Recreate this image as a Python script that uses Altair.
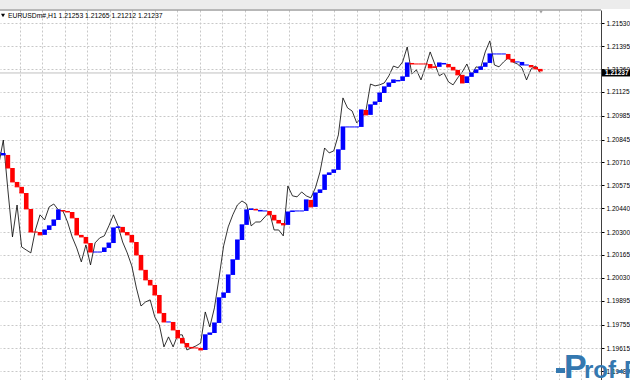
import altair as alt
import pandas as pd

# ---- data (EURUSD H1) ----
close = [
    1.20695, 1.20842, 1.20548, 1.20271, 1.20459, 1.20212, 1.20194, 1.20177, 1.20312, 1.20401,
    1.20371, 1.20448, 1.20465, 1.20430, 1.20424, 1.20359, 1.20271, 1.20206, 1.20124, 1.20224,
    1.20106, 1.20236, 1.20265, 1.20277, 1.20336, 1.20401, 1.20336, 1.20241, 1.20177, 1.20100,
    1.19970, 1.19864, 1.19888, 1.19900, 1.19800, 1.19752, 1.19623, 1.19682, 1.19623, 1.19694,
    1.19694, 1.19605, 1.19617, 1.19629, 1.19646, 1.19829, 1.19741, 1.19853, 1.20029, 1.20218,
    1.20330, 1.20401, 1.20459, 1.20483, 1.20465, 1.20336, 1.20359, 1.20359, 1.20389, 1.20418,
    1.20312, 1.20312, 1.20277, 1.20571, 1.20513, 1.20507, 1.20536, 1.20513, 1.20501, 1.20560,
    1.20654, 1.20795, 1.20766, 1.20778, 1.20872, 1.21090, 1.21031, 1.21013, 1.20943, 1.20972,
    1.21013, 1.21172, 1.21161, 1.21167, 1.21178, 1.21220, 1.21278, 1.21267, 1.21302, 1.21390,
    1.21231, 1.21255, 1.21196, 1.21273, 1.21361, 1.21290, 1.21220, 1.21237, 1.21184, 1.21167,
    1.21208, 1.21243, 1.21290, 1.21220, 1.21273, 1.21267, 1.21361, 1.21426, 1.21284, 1.21273,
    1.21302, 1.21326, 1.21302, 1.21290, 1.21267, 1.21196, 1.21261, 1.21278, 1.21237,
]

level = [
    1.20766, 1.20754, 1.20677, 1.20595, 1.20566, 1.20530, 1.20436, 1.20300, 1.20300, 1.20283,
    1.20312, 1.20336, 1.20371, 1.20430, 1.20424, 1.20418, 1.20383, 1.20283, 1.20271, 1.20235,
    1.20182, 1.20182, 1.20182, 1.20206, 1.20235, 1.20324, 1.20330, 1.20300, 1.20283, 1.20241,
    1.20165, 1.20077, 1.20018, 1.19988, 1.19929, 1.19823, 1.19770, 1.19770, 1.19723, 1.19676,
    1.19646, 1.19623, 1.19617, 1.19617, 1.19605, 1.19694, 1.19705, 1.19764, 1.19912, 1.19941,
    1.20047, 1.20136, 1.20253, 1.20342, 1.20430, 1.20436, 1.20430, 1.20424, 1.20424, 1.20401,
    1.20371, 1.20353, 1.20342, 1.20418, 1.20424, 1.20424, 1.20424, 1.20489, 1.20448, 1.20530,
    1.20548, 1.20636, 1.20648, 1.20666, 1.20784, 1.20919, 1.20919, 1.20919, 1.20919, 1.21019,
    1.20990, 1.21049, 1.21066, 1.21119, 1.21155, 1.21178, 1.21196, 1.21190, 1.21214, 1.21296,
    1.21290, 1.21290, 1.21290, 1.21290, 1.21267, 1.21273, 1.21296, 1.21290, 1.21273, 1.21255,
    1.21226, 1.21178, 1.21214, 1.21237, 1.21255, 1.21273, 1.21296, 1.21349, 1.21349, 1.21349,
    1.21349, 1.21320, 1.21302, 1.21302, 1.21284, 1.21284, 1.21273, 1.21261, 1.21249,
]

direction = list(
    "bbrrrrrrrr" "bbbbrrrrrr" "rbbbbbbrrr" "rrrrrrrbrr" "rrrrrbbbbb"
    "bbbbbbrbbr" "rrrbbbbbrb" "bbbbbbbbbb" "rbbbbbbbbb" "rrrrrrbbrr"
    "rrbbbbbbbb" "brrbbbrrr"
)

price_ticks = [1.21530, 1.21395, 1.21260, 1.21125, 1.20985, 1.20845, 1.20710, 1.20575,
               1.20440, 1.20300, 1.20165, 1.20030, 1.19895, 1.19755, 1.19615, 1.19480]

title_text = "EURUSDm#,H1  1.21253 1.21265 1.21212 1.21237"
last_price = [1.21237]
last_label = ["1.21237"]

n = len(close)
assert len(level) == n and len(direction) == n

df = pd.DataFrame({
    "i": list(range(n)),
    "close": close,
    "level": level,
    "prev": [level[0]] + level[:-1],
    "dir": direction,
})

W, H = 601, 370
FONT = "Liberation Sans"

x_scale = alt.Scale(domain=[0.283, 131.22], nice=False, zero=False)
y_scale = alt.Scale(domain=[1.19428, 1.21608], nice=False, zero=False)
col_scale = alt.Scale(domain=["r", "b"], range=["#ff0000", "#0000ff"])

# vertical grid positions (in bar-index units)
xgrid = [(20 + 22.45 * k + 1.3) / 4.59 for k in range(26)]

X_AXIS = alt.Axis(values=xgrid, labels=False, ticks=False, domain=False, title=None,
                  grid=True, gridColor="#c8c8c8", gridDash=[2, 2], gridWidth=1)
Y_AXIS = alt.Axis(orient="right", values=price_ticks, format=".5f", title=None,
                  grid=True, gridColor="#c8c8c8", gridDash=[2, 2], gridWidth=1,
                  labelFont=FONT, labelFontSize=6.5, labelColor="#000000",
                  labelPadding=2, tickSize=3, tickColor="#000000",
                  domainColor="#404040", labelAlign="left",
                  labelBaseline="middle", labelOverlap=False, labelBound=False)

base = alt.Chart(df)

price_line = base.mark_line(color="#000000", strokeWidth=0.8, clip=True).encode(
    x=alt.X("i:Q", scale=x_scale, axis=X_AXIS),
    y=alt.Y("close:Q", scale=y_scale, axis=Y_AXIS),
    order="i:Q",
)

bars = base.mark_bar(clip=True).transform_calculate(
    xl="datum.i - 0.5", xr="datum.i + 0.5"
).encode(
    x=alt.X("xl:Q", scale=x_scale, axis=X_AXIS),
    x2="xr:Q",
    y=alt.Y("prev:Q", scale=y_scale, axis=Y_AXIS),
    y2="level:Q",
    color=alt.Color("dir:N", scale=col_scale, legend=None),
)

flats = base.mark_rule(strokeWidth=1, clip=True).transform_calculate(
    xl="datum.i - 0.5", xr="datum.i + 0.5"
).encode(
    x=alt.X("xl:Q", scale=x_scale, axis=X_AXIS),
    x2="xr:Q",
    y=alt.Y("level:Q", scale=y_scale, axis=Y_AXIS),
    color=alt.Color("dir:N", scale=col_scale, legend=None),
)

last_df = pd.DataFrame({"p": last_price, "t": last_label})

bid_line = alt.Chart(last_df).mark_rule(color="#c0c0c0", strokeWidth=1).encode(
    y=alt.Y("p:Q", scale=y_scale, axis=Y_AXIS),
    x=alt.value(0), x2=alt.value(W),
)

price_box = alt.Chart(last_df).mark_rect(color="#000000").transform_calculate(
    top="datum.p + 0.000206", bot="datum.p - 0.000206"
).encode(
    y=alt.Y("top:Q", scale=y_scale, axis=Y_AXIS), y2="bot:Q",
    x=alt.value(W + 1), x2=alt.value(W + 29),
)

price_txt = alt.Chart(last_df).mark_text(
    color="#ffffff", font=FONT, fontSize=6.5, fontWeight="bold", align="left", baseline="middle"
).encode(
    y=alt.Y("p:Q", scale=y_scale, axis=Y_AXIS), x=alt.value(W + 4), text="t:N",
)

dummy = pd.DataFrame({"a": [0]})

top_band = alt.Chart(dummy).mark_rect(color="#ececec").encode(
    x=alt.value(0), x2=alt.value(630), y=alt.value(-10), y2=alt.value(-1),
)
top_line = alt.Chart(dummy).mark_rule(color="#707070", strokeWidth=1).encode(
    x=alt.value(0), x2=alt.value(W), y=alt.value(0),
)

title_mark = alt.Chart(dummy).mark_text(
    text=title_text, font=FONT, fontSize=6.8, color="#000000", align="left", baseline="middle"
).encode(x=alt.value(8), y=alt.value(5.5))

title_tri = alt.Chart(dummy).mark_point(
    shape="triangle-down", filled=True, color="#000000", size=16, opacity=1
).encode(x=alt.value(3), y=alt.value(5.5))

shift_tri = alt.Chart(dummy).mark_point(
    shape="triangle-down", filled=True, color="#a0a0a0", size=14, opacity=1
).encode(x=alt.value(541), y=alt.value(2))

wm_bar = alt.Chart(dummy).mark_rect(color="#3478b0").encode(
    x=alt.value(556), x2=alt.value(565), y=alt.value(358), y2=alt.value(363),
)
wm_p = alt.Chart(dummy).mark_text(
    text="P", font=FONT, fontSize=34, fontWeight="bold", color="#3478b0",
    align="left", baseline="alphabetic"
).encode(x=alt.value(564), y=alt.value(368))
wm_rest = alt.Chart(dummy).mark_text(
    text="rof-FX", font=FONT, fontSize=24, fontWeight="bold", color="#3478b0",
    align="left", baseline="alphabetic"
).encode(x=alt.value(584), y=alt.value(368))

chart = alt.layer(
    price_line, bid_line, bars, flats, top_band, top_line, title_tri, title_mark,
    shift_tri, price_box, price_txt, wm_bar, wm_p, wm_rest,
).properties(
    width=W, height=H,
    padding={"left": 0, "top": 10, "right": 29, "bottom": 0},
    autosize=alt.AutoSizeParams(type="none"),
    background="#ffffff",
).configure_view(stroke=None)

chart.save("out.html", embed_options={"renderer": "svg", "actions": False})
